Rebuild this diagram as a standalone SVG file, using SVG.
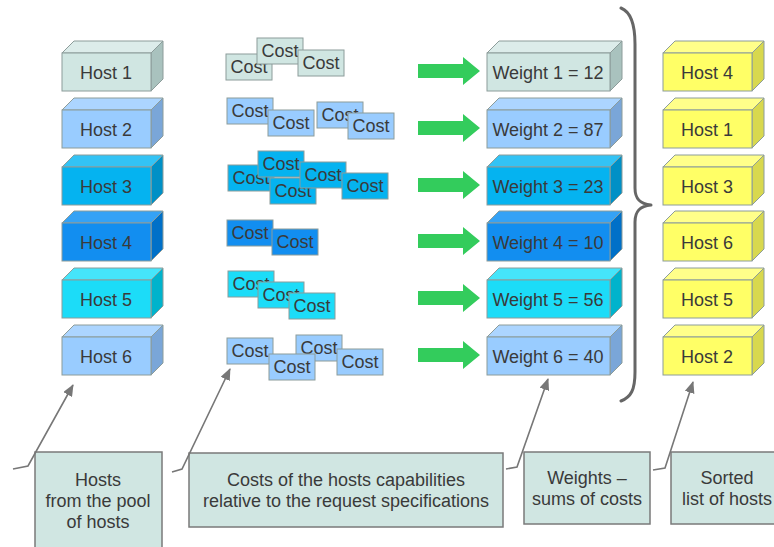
<svg xmlns="http://www.w3.org/2000/svg" width="774" height="547" viewBox="0 0 774 547">
<defs>
<style>
text{font-family:"Liberation Sans",Arial,sans-serif;font-size:18px;fill:#3a3a3a;text-anchor:middle}
.bx rect,.bx polygon,.ct rect{stroke:#8c9c9a;stroke-width:1}
.f1{fill:#d0e6e2}.t1{fill:#dcecea}.s1{fill:#a9c2be}
.f2{fill:#99ccff}.t2{fill:#acd5ff}.s2{fill:#7aa6d8}
.f3{fill:#05b3f0}.t3{fill:#33c3f5}.s3{fill:#0090c6}
.f4{fill:#128ef0}.t4{fill:#35a2f5}.s4{fill:#0070c8}
.f5{fill:#1cdcf8}.t5{fill:#45e5fa}.s5{fill:#00b3cc}
.fy{fill:#ffff66}.ty{fill:#ffff8a}.sy{fill:#d8d84e}
.lbl rect{fill:#d0e6e2;stroke:#7a7a7a;stroke-width:1.5}
.ga{fill:#33cc5c}
.co{fill:none;stroke:#777;stroke-width:1.6;marker-end:url(#ah)}
.brace{fill:none;stroke:#666;stroke-width:3;stroke-linecap:round;stroke-linejoin:round}
</style>
<marker id="ah" viewBox="0 0 12 10" refX="11" refY="5" markerWidth="12" markerHeight="10" markerUnits="userSpaceOnUse" orient="auto">
<path d="M0,0 L12,5 L0,10 Z" fill="#777"/>
</marker>
</defs>
<rect width="774" height="547" fill="#ffffff"/>

<!-- Hosts column -->
<g id="host1" class="bx"><polygon class="t1" points="62,53 74,41 163,41 151,53"/><polygon class="s1" points="151,53 163,41 163,79 151,91"/><rect class="f1" x="62" y="53" width="89" height="38"/><text x="106" y="78.5">Host 1</text></g>
<g id="host2" class="bx"><polygon class="t2" points="62,110 74,98 163,98 151,110"/><polygon class="s2" points="151,110 163,98 163,136 151,148"/><rect class="f2" x="62" y="110" width="89" height="38"/><text x="106" y="135.5">Host 2</text></g>
<g id="host3" class="bx"><polygon class="t3" points="62,167 74,155 163,155 151,167"/><polygon class="s3" points="151,167 163,155 163,193 151,205"/><rect class="f3" x="62" y="167" width="89" height="38"/><text x="106" y="192.5">Host 3</text></g>
<g id="host4" class="bx"><polygon class="t4" points="62,223 74,211 163,211 151,223"/><polygon class="s4" points="151,223 163,211 163,249 151,261"/><rect class="f4" x="62" y="223" width="89" height="38"/><text x="106" y="248.5">Host 4</text></g>
<g id="host5" class="bx"><polygon class="t5" points="62,280 74,268 163,268 151,280"/><polygon class="s5" points="151,280 163,268 163,306 151,318"/><rect class="f5" x="62" y="280" width="89" height="38"/><text x="106" y="305.5">Host 5</text></g>
<g id="host6" class="bx"><polygon class="t2" points="62,337 74,325 163,325 151,337"/><polygon class="s2" points="151,337 163,325 163,363 151,375"/><rect class="f2" x="62" y="337" width="89" height="38"/><text x="106" y="362.5">Host 6</text></g>

<!-- Costs -->
<g id="costs1" class="ct">
<rect class="f1" x="226" y="54" width="46" height="26"/><text x="249" y="73">Cost</text>
<rect class="f1" x="257" y="38" width="46" height="26"/><text x="280" y="57">Cost</text>
<rect class="f1" x="298" y="50" width="46" height="26"/><text x="321" y="69">Cost</text>
</g>
<g id="costs2" class="ct">
<rect class="f2" x="227" y="98" width="46" height="26"/><text x="250" y="117">Cost</text>
<rect class="f2" x="268" y="110" width="46" height="26"/><text x="291" y="129">Cost</text>
<rect class="f2" x="317" y="102" width="46" height="26"/><text x="340" y="121">Cost</text>
<rect class="f2" x="348" y="113" width="46" height="26"/><text x="371" y="132">Cost</text>
</g>
<g id="costs3" class="ct">
<rect class="f3" x="228" y="165" width="46" height="26"/><text x="251" y="184">Cost</text>
<rect class="f3" x="258" y="151" width="46" height="26"/><text x="281" y="170">Cost</text>
<rect class="f3" x="270" y="178" width="46" height="26"/><text x="293" y="197">Cost</text>
<rect class="f3" x="300" y="162" width="46" height="26"/><text x="323" y="181">Cost</text>
<rect class="f3" x="342" y="173" width="46" height="26"/><text x="365" y="192">Cost</text>
</g>
<g id="costs4" class="ct">
<rect class="f4" x="227" y="220" width="46" height="26"/><text x="250" y="239">Cost</text>
<rect class="f4" x="272" y="229" width="46" height="26"/><text x="295" y="248">Cost</text>
</g>
<g id="costs5" class="ct">
<rect class="f5" x="228" y="271" width="46" height="26"/><text x="251" y="290">Cost</text>
<rect class="f5" x="258" y="282" width="46" height="26"/><text x="281" y="301">Cost</text>
<rect class="f5" x="289" y="293" width="46" height="26"/><text x="312" y="312">Cost</text>
</g>
<g id="costs6" class="ct">
<rect class="f2" x="227" y="338" width="46" height="26"/><text x="250" y="357">Cost</text>
<rect class="f2" x="296" y="335" width="46" height="26"/><text x="319" y="354">Cost</text>
<rect class="f2" x="269" y="354" width="46" height="26"/><text x="292" y="373">Cost</text>
<rect class="f2" x="337" y="349" width="46" height="26"/><text x="360" y="368">Cost</text>
</g>

<!-- Weights -->
<g id="weight1" class="bx"><polygon class="t1" points="487,53 499,41 622,41 610,53"/><polygon class="s1" points="610,53 622,41 622,79 610,91"/><rect class="f1" x="487" y="53" width="123" height="38"/><text x="548" y="78.5">Weight 1 = 12</text></g>
<g id="weight2" class="bx"><polygon class="t2" points="487,110 499,98 622,98 610,110"/><polygon class="s2" points="610,110 622,98 622,136 610,148"/><rect class="f2" x="487" y="110" width="123" height="38"/><text x="548" y="135.5">Weight 2 = 87</text></g>
<g id="weight3" class="bx"><polygon class="t3" points="487,167 499,155 622,155 610,167"/><polygon class="s3" points="610,167 622,155 622,193 610,205"/><rect class="f3" x="487" y="167" width="123" height="38"/><text x="548" y="192.5">Weight 3 = 23</text></g>
<g id="weight4" class="bx"><polygon class="t4" points="487,223 499,211 622,211 610,223"/><polygon class="s4" points="610,223 622,211 622,249 610,261"/><rect class="f4" x="487" y="223" width="123" height="38"/><text x="548" y="248.5">Weight 4 = 10</text></g>
<g id="weight5" class="bx"><polygon class="t5" points="487,280 499,268 622,268 610,280"/><polygon class="s5" points="610,280 622,268 622,306 610,318"/><rect class="f5" x="487" y="280" width="123" height="38"/><text x="548" y="305.5">Weight 5 = 56</text></g>
<g id="weight6" class="bx"><polygon class="t2" points="487,337 499,325 622,325 610,337"/><polygon class="s2" points="610,337 622,325 622,363 610,375"/><rect class="f2" x="487" y="337" width="123" height="38"/><text x="548" y="362.5">Weight 6 = 40</text></g>

<!-- Sorted hosts -->
<g id="sorted1" class="bx"><polygon class="ty" points="663,53 675,41 764,41 752,53"/><polygon class="sy" points="752,53 764,41 764,79 752,91"/><rect class="fy" x="663" y="53" width="89" height="38"/><text x="707" y="78.5">Host 4</text></g>
<g id="sorted2" class="bx"><polygon class="ty" points="663,110 675,98 764,98 752,110"/><polygon class="sy" points="752,110 764,98 764,136 752,148"/><rect class="fy" x="663" y="110" width="89" height="38"/><text x="707" y="135.5">Host 1</text></g>
<g id="sorted3" class="bx"><polygon class="ty" points="663,167 675,155 764,155 752,167"/><polygon class="sy" points="752,167 764,155 764,193 752,205"/><rect class="fy" x="663" y="167" width="89" height="38"/><text x="707" y="192.5">Host 3</text></g>
<g id="sorted4" class="bx"><polygon class="ty" points="663,223 675,211 764,211 752,223"/><polygon class="sy" points="752,223 764,211 764,249 752,261"/><rect class="fy" x="663" y="223" width="89" height="38"/><text x="707" y="248.5">Host 6</text></g>
<g id="sorted5" class="bx"><polygon class="ty" points="663,280 675,268 764,268 752,280"/><polygon class="sy" points="752,280 764,268 764,306 752,318"/><rect class="fy" x="663" y="280" width="89" height="38"/><text x="707" y="305.5">Host 5</text></g>
<g id="sorted6" class="bx"><polygon class="ty" points="663,337 675,325 764,325 752,337"/><polygon class="sy" points="752,337 764,325 764,363 752,375"/><rect class="fy" x="663" y="337" width="89" height="38"/><text x="707" y="362.5">Host 2</text></g>

<!-- Labels -->
<g id="label-hosts" class="lbl"><rect x="35" y="452" width="127" height="100"/><text x="98" y="486">Hosts</text><text x="98" y="507">from the pool</text><text x="98" y="528">of hosts</text></g>
<g id="label-costs" class="lbl"><rect x="189" y="453" width="314" height="74"/><text x="346" y="486">Costs of the hosts capabilities</text><text x="346" y="507">relative to the request specifications</text></g>
<g id="label-weights" class="lbl"><rect x="524" y="452" width="126" height="72"/><text x="587" y="484">Weights –</text><text x="587" y="505">sums of costs</text></g>
<g id="label-sorted" class="lbl"><rect x="671" y="452" width="115" height="72"/><text x="727" y="484">Sorted</text><text x="727" y="505">list of hosts</text></g>

<!-- Connectors -->
<g id="connectors">
<polygon class="ga" points="418,64 463,64 463,57 480,71 463,85 463,78 418,78"/>
<polygon class="ga" points="418,121 463,121 463,114 480,128 463,142 463,135 418,135"/>
<polygon class="ga" points="418,178 463,178 463,171 480,185 463,199 463,192 418,192"/>
<polygon class="ga" points="418,234 463,234 463,227 480,241 463,255 463,248 418,248"/>
<polygon class="ga" points="418,291 463,291 463,284 480,298 463,312 463,305 418,305"/>
<polygon class="ga" points="418,348 463,348 463,341 480,355 463,369 463,362 418,362"/>
<path class="brace" d="M621,8 C631,12 635,24 635,44 L635,188 C635,199 640,204 651,205 C640,206 635,211 635,222 L635,372 C635,390 631,397 621,401"/>
<polyline class="co" points="13,469 28,466 73,385"/>
<polyline class="co" points="172,472 182,469 230,369"/>
<polyline class="co" points="506,469 517,467 548,379"/>
<polyline class="co" points="653,470 665,468 693,382"/>
</g>
</svg>
